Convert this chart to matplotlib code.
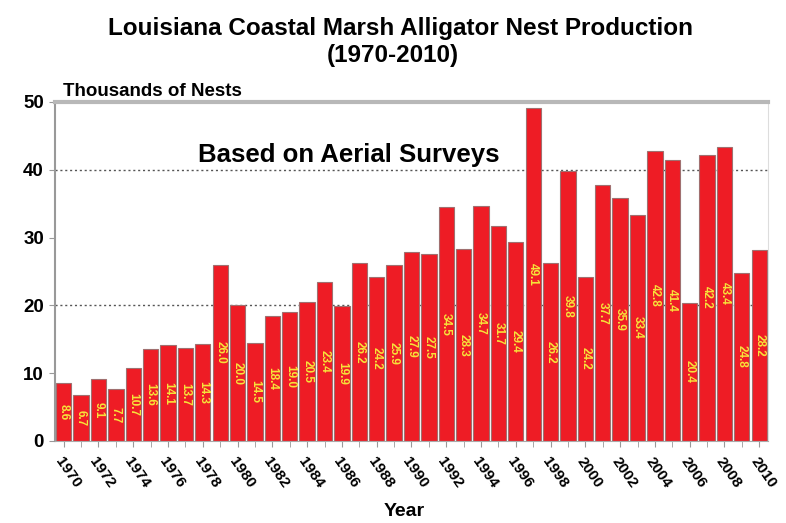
import numpy as np
import matplotlib
matplotlib.use('Agg')
import matplotlib.pyplot as plt

plt.rcParams['font.family'] = ['Liberation Sans', 'DejaVu Sans']

# Nest counts (thousands), 1970-2010
years = list(range(1970, 2011))
nests = [8.6, 6.7, 9.1, 7.7, 10.7, 13.6, 14.1, 13.7, 14.3, 26.0,
         20.0, 14.5, 18.4, 19.0, 20.5, 23.4, 19.9, 26.2, 24.2, 25.9,
         27.9, 27.5, 34.5, 28.3, 34.7, 31.7, 29.4, 49.1, 26.2, 39.8,
         24.2, 37.7, 35.9, 33.4, 42.8, 41.4, 20.4, 42.2, 43.4, 24.8,
         28.2]
tick_years = list(range(1970, 2011, 2))
y_ticks = [0, 10, 20, 30, 40, 50]
grid_levels = [20, 40]

fig = plt.figure(figsize=(7.86, 5.23), dpi=100)
ax = fig.add_axes([0.070, 0.157, 0.907, 0.648])

x = np.arange(len(years))
ax.bar(x, nests, width=0.88, color='#ee1c25', edgecolor='#a07070',
       linewidth=0.8, zorder=2)

# value labels, vertical, centered in each bar
for xi, v in zip(x, nests):
    ax.text(xi, v / 2, '%.1f' % v, rotation=-90, ha='center', va='center',
            color='#f7e43a', fontsize=8.5, fontweight='bold', zorder=3)

for g in grid_levels:
    ax.axhline(g, color='#555555', linestyle=(0, (1.5, 2)), linewidth=1.0, zorder=1)

ax.set_xlim(-0.5, len(years) - 0.5)
ax.set_ylim(0, 50)
ax.set_yticks(y_ticks)
ax.set_yticklabels([str(t) for t in y_ticks], fontsize=13.5, fontweight='bold')

ax.set_xticks(x, minor=True)
ax.set_xticks([years.index(t) for t in tick_years])
ax.set_xticklabels([str(t) for t in tick_years], rotation=-55, ha='left',
                   rotation_mode='anchor', fontsize=11, fontweight='bold')
ax.tick_params(axis='x', which='both', length=4, color='#999999', pad=6)
ax.tick_params(axis='y', length=4, color='#999999', pad=4)

ax.spines['top'].set_color('#b8b8b8')
ax.spines['top'].set_linewidth(3)
ax.spines['left'].set_color('#999999')
ax.spines['left'].set_linewidth(1.5)
ax.spines['bottom'].set_color('#aaaaaa')
ax.spines['right'].set_color('#dddddd')

fig.text(0.51, 0.945, 'Louisiana Coastal Marsh Alligator Nest Production',
         ha='center', va='center', fontsize=17.5, fontweight='bold')
fig.text(0.50, 0.893, '(1970-2010)', ha='center', va='center',
         fontsize=17.5, fontweight='bold')
fig.text(0.080, 0.826, 'Thousands of Nests', ha='left', va='center',
         fontsize=13.5, fontweight='bold')
fig.text(0.252, 0.703, 'Based on Aerial Surveys', ha='left', va='center',
         fontsize=18.5, fontweight='bold')
fig.text(0.514, 0.022, 'Year', ha='center', va='center',
         fontsize=14, fontweight='bold')

fig.savefig('out.png', dpi=100)
